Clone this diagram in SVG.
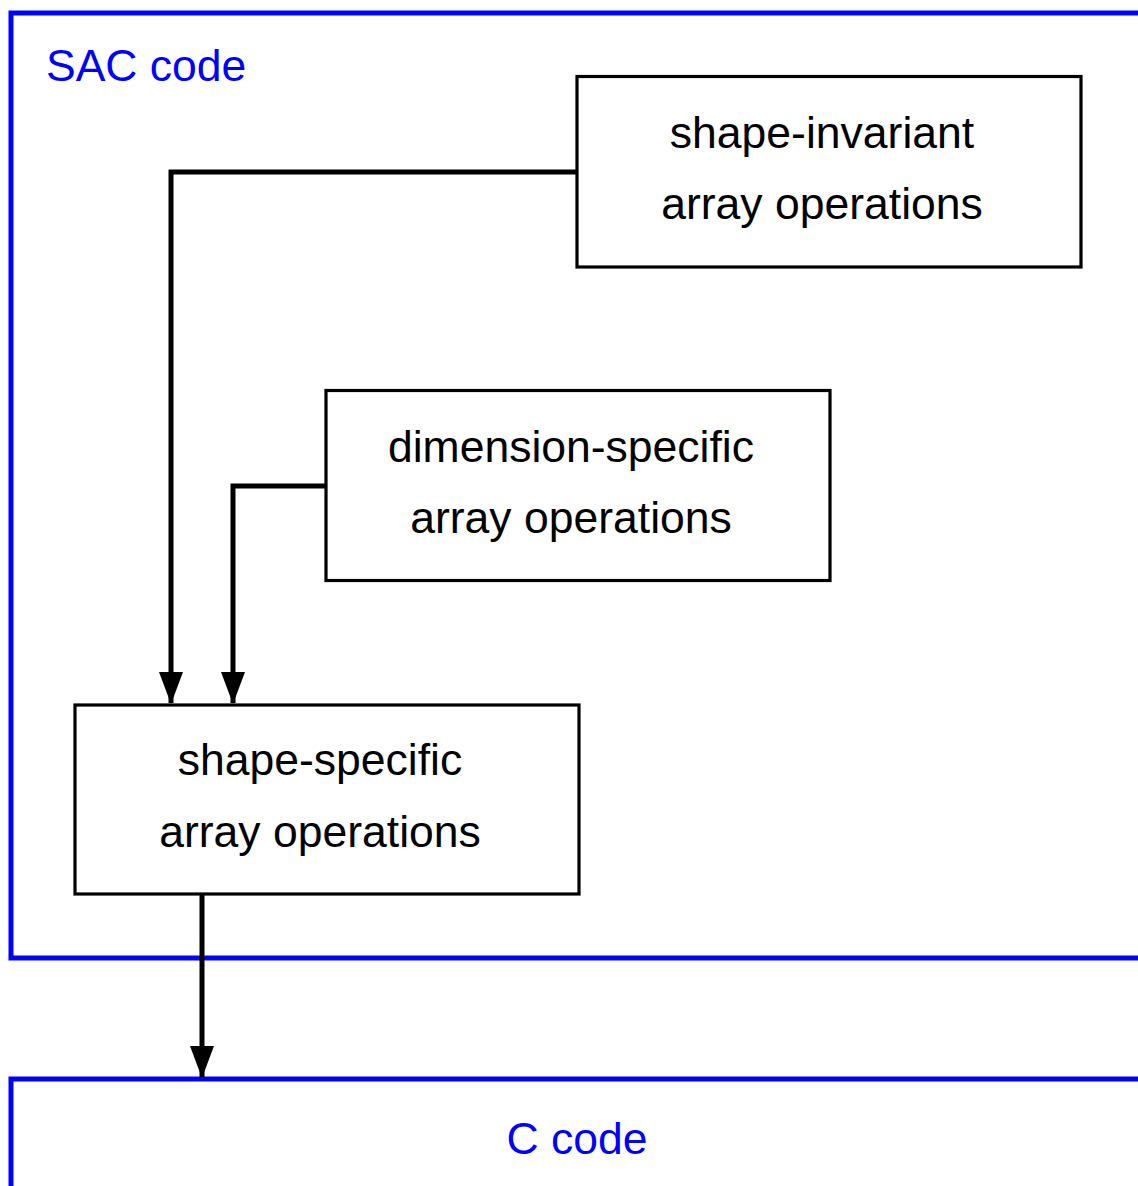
<svg xmlns="http://www.w3.org/2000/svg" width="1138" height="1186" viewBox="0 0 1138 1186">
<style>
.frame{fill:none;stroke:#0000ff;stroke-width:5}
.box{fill:#fff;stroke:#000;stroke-width:3.2}
.lbl{font-family:"Liberation Sans",Arial,sans-serif;font-size:44.5px;fill:#000;text-anchor:middle}
.blue{font-family:"Liberation Sans",Arial,sans-serif;font-size:44.5px;fill:#0000ff}
.conn{fill:none;stroke:#000;stroke-width:5}
</style>
<defs>
<marker id="arr" markerUnits="userSpaceOnUse" markerWidth="32" markerHeight="24" viewBox="0 0 32 24" refX="31" refY="12" orient="auto">
<path d="M0,0 L32,12 L0,24 Z" fill="#000"/>
</marker>
</defs>
<rect width="1138" height="1186" fill="#fff"/>
<g id="sac-frame">
<path class="frame" d="M1145,13 L11,13 L11,958 L1145,958"/>
<text class="blue" x="46" y="81">SAC code</text>
</g>
<g id="c-frame">
<path class="frame" d="M1145,1079 L11,1079 L11,1195"/>
<text class="blue" x="577" y="1154" text-anchor="middle">C code</text>
</g>
<g id="connectors">
<path class="conn" d="M577,172 L171,172 L171,703" marker-end="url(#arr)"/>
<path class="conn" d="M326,486 L233,486 L233,703" marker-end="url(#arr)"/>
<path class="conn" d="M202,894 L202,1077" marker-end="url(#arr)"/>
</g>
<g id="shape-invariant">
<rect class="box" x="577" y="76.5" width="504" height="190.5"/>
<text class="lbl" x="822" y="148">shape-invariant</text>
<text class="lbl" x="822" y="219">array operations</text>
</g>
<g id="dimension-specific">
<rect class="box" x="326" y="390.5" width="504" height="190"/>
<text class="lbl" x="571" y="462">dimension-specific</text>
<text class="lbl" x="571" y="533">array operations</text>
</g>
<g id="shape-specific">
<rect class="box" x="75" y="705" width="504" height="189"/>
<text class="lbl" x="320" y="775">shape-specific</text>
<text class="lbl" x="320" y="847">array operations</text>
</g>
</svg>
